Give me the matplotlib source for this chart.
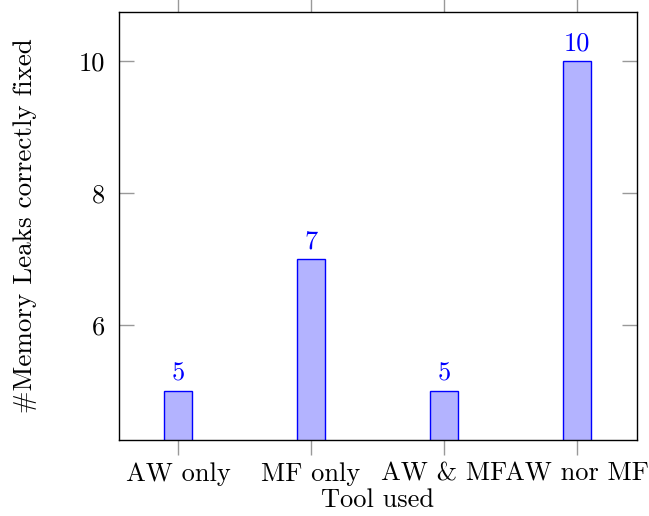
import matplotlib.pyplot as plt

plt.rcParams["font.family"] = ["cmr10", "DejaVu Serif"]
plt.rcParams["mathtext.fontset"] = "cm"
plt.rcParams["axes.formatter.use_mathtext"] = True

categories = ["AW only", "MF only", "AW & MF", "AW nor MF"]
leaks_fixed = [5, 7, 5, 10]
y_ticks = [6, 8, 10]

fs = 19

fig = plt.figure(figsize=(6.49, 5.16), dpi=100)
ax = fig.add_axes([119 / 649, 1 - 440 / 516, (637 - 119) / 649, (440 - 12) / 516])

x = list(range(len(categories)))
ax.bar(x, leaks_fixed, width=0.21, color="#b3b3ff", edgecolor="blue", linewidth=1.0, bottom=0)
for xi, v in zip(x, leaks_fixed):
    ax.text(xi, v + 0.08, str(v), color="blue", ha="center", va="bottom", fontsize=fs)

ax.set_xlim(-0.444, 3.45)
ax.set_ylim(4.258, 10.742)
ax.set_xticks(x)
ax.set_xticklabels(categories, fontsize=fs)
ax.set_yticks(y_ticks)
ax.set_yticklabels([str(t) for t in y_ticks], fontsize=fs)

ax.tick_params(axis="x", direction="out", length=11, color="#999999", width=1,
               top=True, bottom=True, pad=5)
ax.tick_params(axis="y", direction="in", length=11, color="#999999", width=1,
               left=True, right=True, pad=10)

ax.set_xlabel("Tool used", fontsize=fs, labelpad=2)
ax.set_ylabel("#Memory Leaks correctly fixed", fontsize=fs + 0.5, labelpad=30)
for s in ax.spines.values():
    s.set_linewidth(1.0)

fig.savefig("out.png", dpi=100)
